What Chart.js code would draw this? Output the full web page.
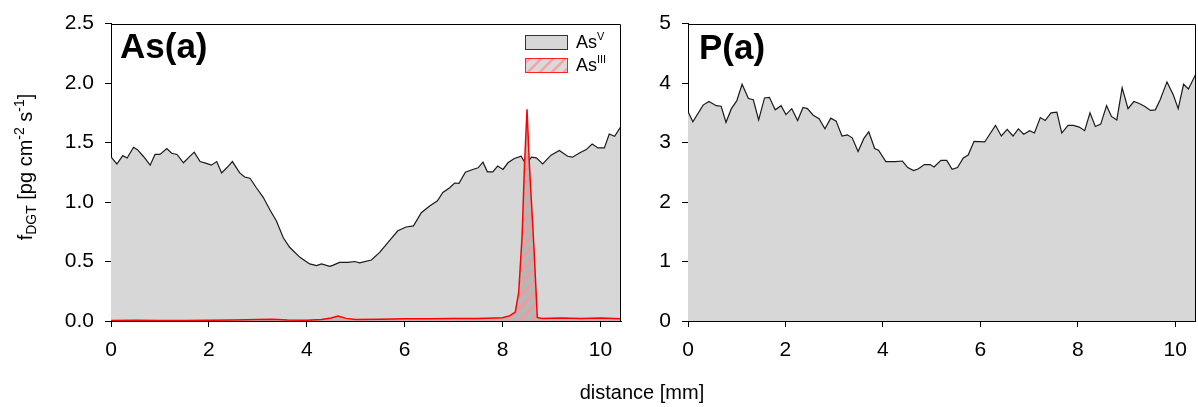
<!DOCTYPE html>
<html>
<head>
<meta charset="utf-8">
<script src="https://cdn.jsdelivr.net/npm/chart.js@4.4.1/dist/chart.umd.min.js"></script>
<style>
  html, body { margin: 0; padding: 0; background: #fff; }
  body { width: 1198px; height: 407px; position: relative; overflow: hidden; }
  .panel { position: absolute; top: 0; }
  #left { left: 0; width: 640px; height: 407px; }
  #right { left: 640px; width: 558px; height: 407px; }
  #xtitle {
    position: absolute; left: 542px; width: 200px; top: 382px;
    text-align: center; font: 20px "Liberation Sans", Arial, sans-serif;
    line-height: 20px; color: #000;
  }
</style>
</head>
<body>
<div class="panel" id="left"><canvas id="chart-as" width="640" height="407"></canvas></div>
<div class="panel" id="right"><canvas id="chart-p" width="558" height="407"></canvas></div>
<div id="xtitle">distance [mm]</div>

<script>
// As(V) profile, distance in mm
const asvX = [0.00, 0.12, 0.24, 0.33, 0.46, 0.54, 0.66, 0.80, 0.90, 1.00, 1.14, 1.24, 1.35, 1.48, 1.60,
  1.70, 1.82, 1.95, 2.05, 2.16, 2.26, 2.37, 2.48, 2.63, 2.73, 2.84, 2.97, 3.11, 3.24, 3.38, 3.52, 3.65,
  3.86, 4.06, 4.20, 4.30, 4.47, 4.54, 4.67, 4.84, 4.98, 5.08, 5.32, 5.49, 5.69, 5.86, 6.03, 6.18, 6.34,
  6.51, 6.67, 6.78, 6.92, 7.02, 7.11, 7.24, 7.39, 7.50, 7.60, 7.69, 7.80, 7.90, 8.01, 8.11, 8.24, 8.38,
  8.48, 8.59, 8.69, 8.82, 8.99, 9.16, 9.33, 9.43, 9.57, 9.71, 9.83, 9.95, 10.08, 10.18, 10.29, 10.42];
const asvY = [1.38, 1.32, 1.39, 1.37, 1.46, 1.44, 1.385, 1.31, 1.40, 1.40, 1.45, 1.41, 1.40, 1.33, 1.38,
  1.42, 1.34, 1.325, 1.31, 1.34, 1.245, 1.29, 1.34, 1.245, 1.21, 1.20, 1.12, 1.04, 0.94, 0.84, 0.70, 0.62,
  0.535, 0.48, 0.465, 0.48, 0.46, 0.47, 0.493, 0.493, 0.50, 0.488, 0.513, 0.577, 0.675, 0.758, 0.79, 0.80, 0.91,
  0.967, 1.01, 1.08, 1.12, 1.16, 1.157, 1.25, 1.274, 1.288, 1.335, 1.254, 1.254, 1.302, 1.274, 1.33, 1.366, 1.386,
  1.316, 1.377, 1.371, 1.321, 1.394, 1.433, 1.385, 1.377, 1.413, 1.441, 1.488, 1.455, 1.455, 1.572, 1.553, 1.636];

// As(III) profile
const asiiiX = [0, 0.5, 1, 1.5, 2, 2.5, 3, 3.3, 3.6, 4, 4.3, 4.5, 4.64, 4.8, 5.0, 5.5, 6, 6.5, 7, 7.5,
  8, 8.15, 8.26, 8.33, 8.40, 8.45, 8.50, 8.55, 8.64, 8.71, 8.8, 9.2, 9.6, 10, 10.42];
const asiiiY = [0.005, 0.006, 0.005, 0.004, 0.006, 0.008, 0.012, 0.015, 0.008, 0.006, 0.012, 0.025, 0.042,
  0.022, 0.012, 0.015, 0.018, 0.018, 0.022, 0.02, 0.028, 0.045, 0.075, 0.24, 0.72, 1.33, 1.78, 1.30, 0.63,
  0.03, 0.022, 0.025, 0.022, 0.025, 0.018];

// P profile
const pX = [0, 0.10, 0.31, 0.43, 0.58, 0.68, 0.78, 0.89, 1.00, 1.11, 1.24, 1.34, 1.45, 1.57, 1.67, 1.79,
  1.91, 2.01, 2.13, 2.25, 2.36, 2.45, 2.57, 2.69, 2.81, 2.93, 3.04, 3.16, 3.27, 3.37, 3.49, 3.61, 3.71,
  3.83, 3.91, 4.06, 4.25, 4.40, 4.51, 4.63, 4.73, 4.85, 4.97, 5.05, 5.19, 5.31, 5.42, 5.53, 5.65, 5.75,
  5.87, 6.09, 6.31, 6.43, 6.55, 6.67, 6.78, 6.89, 7.01, 7.11, 7.23, 7.33, 7.45, 7.57, 7.67, 7.80, 7.91,
  8.03, 8.14, 8.25, 8.36, 8.47, 8.59, 8.69, 8.80, 8.91, 9.03, 9.15, 9.25, 9.37, 9.49, 9.59, 9.69, 9.83,
  9.96, 10.06, 10.17, 10.27, 10.42];
const pY = [3.52, 3.35, 3.63, 3.69, 3.62, 3.61, 3.34, 3.57, 3.70, 3.98, 3.74, 3.72, 3.38, 3.75, 3.76, 3.55,
  3.62, 3.47, 3.57, 3.37, 3.59, 3.57, 3.46, 3.40, 3.23, 3.41, 3.36, 3.11, 3.13, 3.08, 2.85, 3.07, 3.18,
  2.90, 2.87, 2.68, 2.68, 2.69, 2.58, 2.53, 2.56, 2.63, 2.63, 2.59, 2.70, 2.70, 2.55, 2.58, 2.74, 2.79,
  3.02, 3.01, 3.29, 3.11, 3.22, 3.11, 3.23, 3.14, 3.20, 3.16, 3.42, 3.37, 3.50, 3.51, 3.16, 3.29, 3.29,
  3.26, 3.20, 3.50, 3.27, 3.31, 3.62, 3.44, 3.38, 3.92, 3.57, 3.69, 3.66, 3.61, 3.54, 3.55, 3.72, 4.02,
  3.80, 3.57, 3.98, 3.90, 4.15];

const X_MAX = 10.42;
const FONT = '"Liberation Sans", Arial, sans-serif';
const FILL_GRAY = '#d7d7d7';

function toPoints(xs, ys) {
  return xs.map((x, i) => ({ x, y: ys[i] }));
}

function hatch(bg, stripe) {
  const c = document.createElement('canvas');
  c.width = 12;
  c.height = 12;
  const g = c.getContext('2d');
  g.fillStyle = bg;
  g.fillRect(0, 0, 12, 12);
  g.strokeStyle = stripe;
  g.lineWidth = 2.5;
  g.beginPath();
  g.moveTo(-3, 15); g.lineTo(15, -3);
  g.moveTo(-3, 3); g.lineTo(3, -3);
  g.moveTo(9, 15); g.lineTo(15, 9);
  g.stroke();
  return g.createPattern(c, 'repeat');
}

// draws text pieces one after another (for sub/superscripts)
function drawRich(ctx, parts, x, y, align) {
  let total = 0;
  for (const p of parts) {
    ctx.font = (p.bold ? 'bold ' : '') + p.size + 'px ' + FONT;
    total += ctx.measureText(p.t).width;
  }
  let cx = align === 'center' ? x - total / 2 : x;
  ctx.textAlign = 'left';
  ctx.textBaseline = 'alphabetic';
  for (const p of parts) {
    ctx.font = (p.bold ? 'bold ' : '') + p.size + 'px ' + FONT;
    ctx.fillText(p.t, cx, y + (p.dy || 0));
    cx += ctx.measureText(p.t).width;
  }
}

const framePlugin = {
  id: 'frame',
  afterDraw(chart) {
    const { ctx, chartArea: a } = chart;
    ctx.save();
    ctx.strokeStyle = '#000';
    ctx.lineWidth = 1;
    ctx.beginPath();
    ctx.moveTo(Math.round(a.left) + 0.5, Math.round(a.top) + 0.5);
    ctx.lineTo(Math.round(a.right) - 0.5, Math.round(a.top) + 0.5);
    ctx.lineTo(Math.round(a.right) - 0.5, Math.round(a.bottom) + 0.5);
    ctx.stroke();
    ctx.restore();
  },
};

function xScale() {
  return {
    type: 'linear',
    min: 0,
    max: X_MAX,
    afterFit: (s) => { s.height = 86; },
    grid: { drawOnChartArea: false, drawTicks: true, tickLength: 6, color: '#000' },
    border: { display: true, color: '#000', width: 1 },
    ticks: { stepSize: 2, includeBounds: false, color: '#000', padding: 11, font: { family: FONT, size: 21 } },
  };
}

function yScale(max, step, width, fmt) {
  return {
    type: 'linear',
    min: 0,
    max,
    afterFit: (s) => { s.width = width; },
    grid: { drawOnChartArea: false, drawTicks: true, tickLength: 6, color: '#000' },
    border: { display: true, color: '#000', width: 1 },
    ticks: { stepSize: step, color: '#000', padding: 11, font: { family: FONT, size: 21 }, callback: fmt },
  };
}

const asLabels = {
  id: 'asLabels',
  afterDraw(chart) {
    const ctx = chart.ctx;
    ctx.save();
    ctx.fillStyle = '#000';
    drawRich(ctx, [{ t: 'As(a)', size: 35, bold: true }], 120, 58);

    // legend
    ctx.fillStyle = FILL_GRAY;
    ctx.fillRect(525.5, 35.5, 42, 14);
    ctx.strokeStyle = '#333';
    ctx.lineWidth = 1;
    ctx.strokeRect(525.5, 35.5, 42, 14);
    ctx.fillStyle = hatch('#dadada', '#f4a4a4');
    ctx.fillRect(525.5, 58.5, 42, 14);
    ctx.strokeStyle = '#ff2020';
    ctx.strokeRect(525.5, 58.5, 42, 14);
    ctx.fillStyle = '#000';
    drawRich(ctx, [{ t: 'As', size: 18 }, { t: 'V', size: 11, dy: -8 }], 576, 48);
    drawRich(ctx, [{ t: 'As', size: 18 }, { t: 'III', size: 11, dy: -8 }], 576, 71);

    // y-axis title
    ctx.translate(32, 167);
    ctx.rotate(-Math.PI / 2);
    drawRich(ctx, [
      { t: 'f', size: 20 },
      { t: 'DGT', size: 14, dy: 4 },
      { t: ' [pg cm', size: 20 },
      { t: '-2', size: 14, dy: -8 },
      { t: ' s', size: 20 },
      { t: '-1', size: 14, dy: -8 },
      { t: ']', size: 20 },
    ], 0, 0, 'center');
    ctx.restore();
  },
};

const pLabels = {
  id: 'pLabels',
  afterDraw(chart) {
    const ctx = chart.ctx;
    ctx.save();
    ctx.fillStyle = '#000';
    drawRich(ctx, [{ t: 'P(a)', size: 35, bold: true }], 59, 59);
    ctx.restore();
  },
};

new Chart(document.getElementById('chart-as'), {
  type: 'line',
  data: {
    datasets: [
      {
        label: 'AsIII',
        data: toPoints(asiiiX, asiiiY),
        borderColor: '#ff0000',
        borderWidth: 1.5,
        backgroundColor: hatch('#b6b6b6', '#f29a9a'),
        fill: 'origin',
        pointRadius: 0,
        tension: 0,
      },
      {
        label: 'AsV',
        data: toPoints(asvX, asvY),
        borderColor: '#1a1a1a',
        borderWidth: 1.2,
        backgroundColor: FILL_GRAY,
        fill: 'origin',
        pointRadius: 0,
        tension: 0,
      },
    ],
  },
  options: {
    responsive: false,
    animation: false,
    layout: { padding: { top: 22, right: 19, left: 0, bottom: 0 } },
    plugins: { legend: { display: false }, tooltip: { enabled: false } },
    scales: {
      x: xScale(),
      y: yScale(2.5, 0.5, 111, (v) => v.toFixed(1)),
    },
  },
  plugins: [framePlugin, asLabels],
});

new Chart(document.getElementById('chart-p'), {
  type: 'line',
  data: {
    datasets: [
      {
        label: 'P',
        data: toPoints(pX, pY),
        borderColor: '#1a1a1a',
        borderWidth: 1.2,
        backgroundColor: FILL_GRAY,
        fill: 'origin',
        pointRadius: 0,
        tension: 0,
      },
    ],
  },
  options: {
    responsive: false,
    animation: false,
    layout: { padding: { top: 22, right: 1, left: 0, bottom: 0 } },
    plugins: { legend: { display: false }, tooltip: { enabled: false } },
    scales: {
      x: xScale(),
      y: yScale(5, 1, 48, (v) => String(v)),
    },
  },
  plugins: [framePlugin, pLabels],
});
</script>
</body>
</html>
